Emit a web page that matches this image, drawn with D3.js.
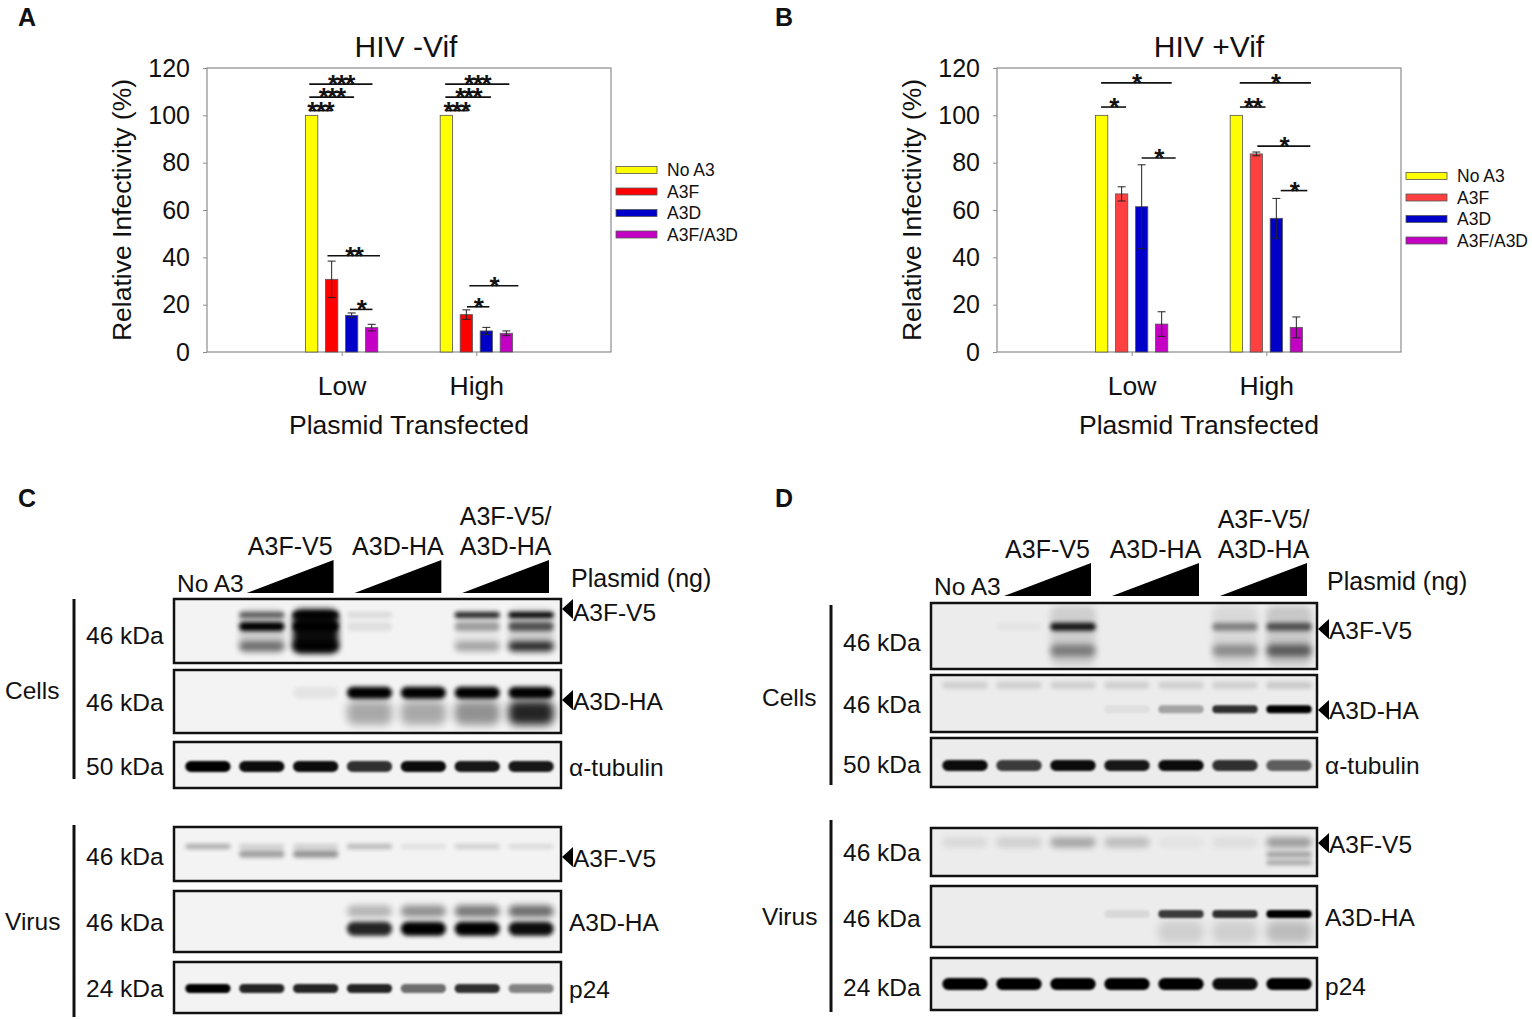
<!DOCTYPE html>
<html>
<head>
<meta charset="utf-8">
<script src="https://cdn.jsdelivr.net/npm/d3@7"></script>
<style>
  body { margin: 0; background: #fff; }
  svg { display: block; }
  text { font-family: "Liberation Sans", Arial, sans-serif; fill: #111; }
</style>
</head>
<body>
<svg width="1532" height="1019"></svg>
<script>
// ---- bar chart data ----
let groups = ['Low', 'High'];
let series = ['No A3', 'A3F', 'A3D', 'A3F/A3D'];
let yTicks = [0, 20, 40, 60, 80, 100, 120];
let colorsA = ['#ffff00', '#ff0000', '#0000c8', '#c400c4'];
let colorsB = ['#ffff00', '#ff4040', '#0000c8', '#c400c4'];

let vifNegMean = [[100, 30.7, 15.5, 10.3], [100, 15.8, 8.9, 7.9]];
let vifNegErr  = [[0, 7.7, 1.0, 1.4], [0, 2.0, 1.5, 1.0]];
let vifPosMean = [[100, 66.8, 61.4, 11.8], [100, 83.7, 56.5, 10.4]];
let vifPosErr  = [[0, 3.0, 17.7, 5.2], [0, 0.8, 8.4, 4.4]];

// significance brackets: group, from slot, to slot (bar slot units), height (%), stars
let sigNeg = [
  ['Low', 0.38, 1.48, 102, '***'], ['Low', 0.38, 2.62, 107.7, '***'], ['Low', 0.38, 3.54, 113.2, '***'],
  ['Low', 1.29, 3.92, 40.7, '**'], ['Low', 2.41, 3.54, 18, '*'],
  ['High', 0.45, 1.56, 102, '***'], ['High', 0.45, 2.73, 107.7, '***'], ['High', 0.44, 3.65, 113.2, '***'],
  ['High', 1.53, 2.65, 19.1, '*'], ['High', 1.65, 4.1, 28, '*']
];
let sigPos = [
  ['Low', 0.47, 1.72, 103.5, '*'], ['Low', 0.47, 4.0, 113.7, '*'], ['Low', 2.5, 4.2, 82, '*'],
  ['High', 0.68, 1.96, 103.5, '**'], ['High', 0.67, 4.23, 113.7, '*'],
  ['High', 1.55, 4.2, 87, '*'], ['High', 2.72, 4.05, 68.2, '*']
];

// ---- western blot data: relative band intensity per lane (7 lanes) ----
let blotGroups = ['A3F-V5', 'A3D-HA', 'A3F-V5/A3D-HA'];
let cCellsA3F = [[0, 0.55, 1, 0.1, 0, 0.85, 1], [0, 1, 1, 0.08, 0, 0.3, 0.6], [0, 0.5, 1, 0, 0, 0.3, 0.85], [0, 0.15, 0.95, 0, 0, 0.05, 0.15]];
let cCellsA3D = [[0, 0, 0.06, 1, 1, 1, 1], [0, 0, 0, 0.3, 0.3, 0.4, 0.85]];
let cCellsTub = [[1, 0.95, 0.95, 0.8, 0.95, 0.9, 0.9]];
let cVirusA3F = [[0.3, 0.15, 0.15, 0.25, 0.08, 0.15, 0.1], [0, 0.35, 0.4, 0, 0, 0, 0]];
let cVirusA3D = [[0, 0, 0, 0.25, 0.4, 0.5, 0.55], [0, 0, 0, 0.85, 1, 1, 0.95]];
let cVirusP24 = [[1, 0.85, 0.85, 0.85, 0.55, 0.8, 0.45]];

let dCellsA3F = [[0, 0.03, 0.9, 0, 0, 0.4, 0.6], [0, 0, 0.4, 0, 0, 0.35, 0.55], [0, 0, 0.12, 0, 0, 0.08, 0.15]];
let dCellsA3D = [[0.12, 0.12, 0.12, 0.12, 0.12, 0.12, 0.15], [0, 0, 0, 0.05, 0.3, 0.8, 1]];
let dCellsTub = [[0.95, 0.75, 0.95, 0.9, 0.95, 0.8, 0.6]];
let dVirusA3F = [[0.08, 0.12, 0.3, 0.2, 0.04, 0.06, 0.35], [0, 0, 0, 0, 0, 0, 0.35], [0, 0, 0, 0, 0, 0, 0.3]];
let dVirusA3D = [[0, 0, 0, 0.08, 0.75, 0.8, 1], [0, 0, 0, 0, 0.12, 0.12, 0.2]];
let dVirusP24 = [[1, 1, 1, 1, 1, 0.95, 1]];

let svg = d3.select('svg');
svg.append('rect').attr('width', 1532).attr('height', 1019).attr('fill', '#fff');

let defs = svg.append('defs');
[['b1', 1.2], ['b2', 2], ['b3', 3], ['b4', 4]].forEach(([id, s]) => {
  defs.append('filter').attr('id', id)
    .attr('x', '-50%').attr('y', '-150%').attr('width', '200%').attr('height', '400%')
    .append('feGaussianBlur').attr('stdDeviation', s);
});

let label = (g, txt, x, y, size, anchor, weight) =>
  g.append('text').attr('x', x).attr('y', y).attr('font-size', size)
    .attr('text-anchor', anchor || 'start').attr('font-weight', weight || 'normal').text(txt);

// ---- bar charts ----
let drawBars = (cfg) => {
  let g = svg.append('g');
  let y = d3.scaleLinear().domain([0, 120]).range([352, 68]);
  let x = d3.scalePoint().domain(groups).range([cfg.left, cfg.right]).padding(1);
  let xs = d3.scaleBand().domain(d3.range(series.length)).range([-40, 40])
    .paddingInner(0.385).paddingOuter(0.1925);
  let slot = d3.scaleLinear().domain([0, 4]).range([-40, 40]);

  g.append('rect').attr('x', cfg.left).attr('y', y(120))
    .attr('width', cfg.right - cfg.left).attr('height', y(0) - y(120))
    .attr('fill', 'none').attr('stroke', '#8c8c8c').attr('stroke-width', 1.2);

  g.append('g').attr('transform', `translate(${cfg.left},0)`)
    .call(d3.axisLeft(y).tickValues(yTicks).tickSize(4).tickSizeOuter(0).tickPadding(13))
    .call(a => {
      a.attr('font-family', null).attr('font-size', 25);
      a.select('.domain').remove();
      a.selectAll('line').attr('stroke', '#8c8c8c');
      a.selectAll('text').attr('fill', '#111');
    });

  g.append('g').attr('transform', `translate(0,${y(0)})`)
    .call(d3.axisBottom(x).tickSize(4).tickSizeOuter(0).tickPadding(20))
    .call(a => {
      a.attr('font-family', null).attr('font-size', 26.5);
      a.select('.domain').remove();
      a.selectAll('line').attr('stroke', '#8c8c8c');
      a.selectAll('text').attr('fill', '#111');
    });

  let cells = [];
  groups.forEach((gr, gi) => series.forEach((s, si) =>
    cells.push({ gr, si, v: cfg.means[gi][si], e: cfg.errs[gi][si] })));

  g.selectAll('rect.bar').data(cells).join('rect').attr('class', 'bar')
    .attr('x', d => x(d.gr) + xs(d.si)).attr('width', xs.bandwidth())
    .attr('y', d => y(d.v)).attr('height', d => y(0) - y(d.v))
    .attr('fill', d => cfg.colors[d.si]).attr('stroke', '#555').attr('stroke-width', 0.8);

  let eb = g.selectAll('g.err').data(cells.filter(d => d.e > 0)).join('g').attr('class', 'err')
    .attr('stroke', '#222').attr('stroke-width', 1);
  eb.append('line')
    .attr('x1', d => x(d.gr) + xs(d.si) + xs.bandwidth() / 2).attr('x2', d => x(d.gr) + xs(d.si) + xs.bandwidth() / 2)
    .attr('y1', d => y(d.v - d.e)).attr('y2', d => y(d.v + d.e));
  [1, -1].forEach(sign => eb.append('line')
    .attr('x1', d => x(d.gr) + xs(d.si) + xs.bandwidth() / 2 - 4).attr('x2', d => x(d.gr) + xs(d.si) + xs.bandwidth() / 2 + 4)
    .attr('y1', d => y(d.v + sign * d.e)).attr('y2', d => y(d.v + sign * d.e)));

  let sg = g.selectAll('g.sig').data(cfg.sig).join('g').attr('class', 'sig');
  sg.append('line')
    .attr('x1', d => x(d[0]) + slot(d[1])).attr('x2', d => x(d[0]) + slot(d[2]))
    .attr('y1', d => y(d[3])).attr('y2', d => y(d[3]))
    .attr('stroke', '#111').attr('stroke-width', 1.6);
  sg.append('text')
    .attr('x', d => x(d[0]) + (slot(d[1]) + slot(d[2])) / 2).attr('y', d => y(d[3]) + 9)
    .attr('text-anchor', 'middle').attr('font-size', 26).attr('font-weight', 'bold')
    .attr('letter-spacing', -1.5).text(d => d[4]);

  let lg = g.append('g');
  series.forEach((s, i) => {
    let ly = cfg.legendY + i * 21.5;
    lg.append('rect').attr('x', cfg.legendX).attr('y', ly - 3.5).attr('width', 41).attr('height', 7)
      .attr('fill', cfg.colors[i]).attr('stroke', '#555').attr('stroke-width', 0.8);
    label(lg, s, cfg.legendX + 51, ly + 6, 17.5);
  });

  label(g, cfg.title, cfg.titleX, 57, 30, 'middle');
  label(g, 'Plasmid Transfected', (cfg.left + cfg.right) / 2, 434, 26.5, 'middle');
  g.append('text').attr('transform', `translate(${cfg.left - 85},210) rotate(-90)`)
    .attr('text-anchor', 'middle').attr('dy', '0.35em').attr('font-size', 26.5)
    .text('Relative Infectivity (%)');
  label(g, cfg.letter, cfg.letterX, 26, 25, 'start', 'bold');
};

drawBars({ left: 207, right: 611, means: vifNegMean, errs: vifNegErr, colors: colorsA, sig: sigNeg,
  legendX: 616, legendY: 170, title: 'HIV -Vif', titleX: 406, letter: 'A', letterX: 18 });
drawBars({ left: 997, right: 1401, means: vifPosMean, errs: vifPosErr, colors: colorsB, sig: sigPos,
  legendX: 1406, legendY: 176, title: 'HIV +Vif', titleX: 1209, letter: 'B', letterX: 775 });

// ---- western blots ----
let drawBlotPanel = (cfg) => {
  let g = svg.append('g');
  let lanes = d3.scaleBand().domain(d3.range(7)).range(cfg.laneRange);
  let bw = lanes.bandwidth();

  // header: group labels and wedges
  blotGroups.forEach((name, i) => {
    let xa = lanes(1 + 2 * i) + 12, xb = lanes(2 + 2 * i) + bw - 9;
    g.append('path')
      .attr('d', d3.line()([[xa, cfg.wedgeY], [xb, cfg.wedgeY], [xb, cfg.wedgeY - 33]]) + 'Z')
      .attr('fill', '#000');
    let cx = (xa + xb) / 2;
    if (name.includes('/')) {
      label(g, 'A3F-V5/', cx, cfg.headY - 30, 25, 'middle');
      label(g, 'A3D-HA', cx, cfg.headY, 25, 'middle');
    } else {
      label(g, name, cx, cfg.headY, 25, 'middle');
    }
  });
  label(g, 'No A3', cfg.box[0] + 3, cfg.wedgeY - 1, 24.5);
  label(g, 'Plasmid (ng)', cfg.box[1] + 10, cfg.wedgeY - 6, 25);

  cfg.blots.forEach((b, bi) => {
    let [y0, y1] = b.y;
    let h = y1 - y0;
    let clipId = cfg.id + 'clip' + bi;
    g.append('clipPath').attr('id', clipId).append('rect')
      .attr('x', cfg.box[0]).attr('y', y0).attr('width', cfg.box[1] - cfg.box[0]).attr('height', h);
    let bg = g.append('g').attr('clip-path', `url(#${clipId})`);
    bg.append('rect').attr('x', cfg.box[0]).attr('y', y0).attr('width', cfg.box[1] - cfg.box[0]).attr('height', h)
      .attr('fill', cfg.bg);
    let bands = [];
    b.data.forEach((row, ri) => row.forEach((v, li) => { if (v > 0) bands.push({ v, li, L: b.layout[ri] }); }));
    bg.selectAll('rect.band').data(bands).join('rect').attr('class', 'band')
      .attr('x', d => lanes(d.li) + bw * 0.08).attr('width', bw * 0.84)
      .attr('y', d => y0 + h * d.L.ry - d.L.h / 2).attr('height', d => d.L.h)
      .attr('rx', d => Math.min(d.L.h / 2, 8))
      .attr('fill', '#000').attr('opacity', d => d.v)
      .attr('filter', d => `url(#${d.L.blur})`);
    g.append('rect').attr('x', cfg.box[0]).attr('y', y0).attr('width', cfg.box[1] - cfg.box[0]).attr('height', h)
      .attr('fill', 'none').attr('stroke', '#111').attr('stroke-width', 2.5);

    label(g, b.kda, cfg.kdaX, b.kdaY, 24.5).attr('dy', '0.35em');
    let tx = cfg.box[1] + 8;
    if (b.arrowY) {
      g.append('path')
        .attr('d', d3.line()([[cfg.box[1] + 1, b.arrowY], [cfg.box[1] + 12, b.arrowY - 10], [cfg.box[1] + 12, b.arrowY + 10]]) + 'Z')
        .attr('fill', '#000');
      tx = cfg.box[1] + 12;
    }
    label(g, b.name, tx, b.nameY, 24.5).attr('dy', '0.35em');
  });

  cfg.sides.forEach(s => {
    g.append('line').attr('x1', cfg.sideX).attr('x2', cfg.sideX).attr('y1', s.y[0]).attr('y2', s.y[1])
      .attr('stroke', '#111').attr('stroke-width', 3);
    label(g, s.name, cfg.sideLabelX, s.labelY, 24.5).attr('dy', '0.35em');
  });
  label(g, cfg.letter, cfg.letterX, 507, 25, 'start', 'bold');
};

drawBlotPanel({
  id: 'c', letter: 'C', letterX: 18, laneRange: [181, 558], box: [174, 561], bg: '#f3f3f3',
  wedgeY: 593, headY: 555, kdaX: 86, sideX: 74, sideLabelX: 5,
  sides: [{ name: 'Cells', y: [599, 779], labelY: 690 }, { name: 'Virus', y: [825, 1017], labelY: 921 }],
  blots: [
    { name: 'A3F-V5', kda: '46 kDa', y: [599, 663], kdaY: 635, nameY: 612, arrowY: 609, data: cCellsA3F,
      layout: [{ ry: 0.25, h: 6, blur: 'b2' }, { ry: 0.43, h: 9, blur: 'b2' }, { ry: 0.74, h: 9, blur: 'b3' }, { ry: 0.5, h: 44, blur: 'b3' }] },
    { name: 'A3D-HA', kda: '46 kDa', y: [670, 733], kdaY: 702, nameY: 701, arrowY: 700, data: cCellsA3D,
      layout: [{ ry: 0.36, h: 12, blur: 'b2' }, { ry: 0.68, h: 24, blur: 'b4' }] },
    { name: 'α-tubulin', kda: '50 kDa', y: [742, 788], kdaY: 766, nameY: 767, data: cCellsTub,
      layout: [{ ry: 0.53, h: 11, blur: 'b1' }] },
    { name: 'A3F-V5', kda: '46 kDa', y: [827, 881], kdaY: 856, nameY: 858, arrowY: 857, data: cVirusA3F,
      layout: [{ ry: 0.36, h: 5, blur: 'b2' }, { ry: 0.5, h: 7, blur: 'b2' }] },
    { name: 'A3D-HA', kda: '46 kDa', y: [891, 952], kdaY: 922, nameY: 922, data: cVirusA3D,
      layout: [{ ry: 0.33, h: 12, blur: 'b3' }, { ry: 0.62, h: 14, blur: 'b2' }] },
    { name: 'p24', kda: '24 kDa', y: [962, 1013], kdaY: 988, nameY: 989, data: cVirusP24,
      layout: [{ ry: 0.52, h: 9, blur: 'b1' }] }
  ]
});

drawBlotPanel({
  id: 'd', letter: 'D', letterX: 775, laneRange: [938, 1316], box: [931, 1317], bg: '#ececec',
  wedgeY: 596, headY: 558, kdaX: 843, sideX: 831, sideLabelX: 762,
  sides: [{ name: 'Cells', y: [605, 785], labelY: 697 }, { name: 'Virus', y: [820, 1012], labelY: 916 }],
  blots: [
    { name: 'A3F-V5', kda: '46 kDa', y: [603, 669], kdaY: 642, nameY: 630, arrowY: 629, data: dCellsA3F,
      layout: [{ ry: 0.36, h: 8, blur: 'b2' }, { ry: 0.72, h: 12, blur: 'b3' }, { ry: 0.5, h: 60, blur: 'b3' }] },
    { name: 'A3D-HA', kda: '46 kDa', y: [675, 732], kdaY: 704, nameY: 710, arrowY: 710, data: dCellsA3D,
      layout: [{ ry: 0.18, h: 7, blur: 'b2' }, { ry: 0.6, h: 8, blur: 'b1' }] },
    { name: 'α-tubulin', kda: '50 kDa', y: [738, 787], kdaY: 764, nameY: 765, data: dCellsTub,
      layout: [{ ry: 0.56, h: 11, blur: 'b1' }] },
    { name: 'A3F-V5', kda: '46 kDa', y: [828, 876], kdaY: 852, nameY: 844, arrowY: 843, data: dVirusA3F,
      layout: [{ ry: 0.3, h: 10, blur: 'b3' }, { ry: 0.55, h: 5, blur: 'b2' }, { ry: 0.72, h: 5, blur: 'b2' }] },
    { name: 'A3D-HA', kda: '46 kDa', y: [886, 947], kdaY: 918, nameY: 917, data: dVirusA3D,
      layout: [{ ry: 0.46, h: 8, blur: 'b1' }, { ry: 0.75, h: 22, blur: 'b4' }] },
    { name: 'p24', kda: '24 kDa', y: [958, 1010], kdaY: 987, nameY: 986, data: dVirusP24,
      layout: [{ ry: 0.5, h: 12, blur: 'b1' }] }
  ]
});
</script>
</body>
</html>
